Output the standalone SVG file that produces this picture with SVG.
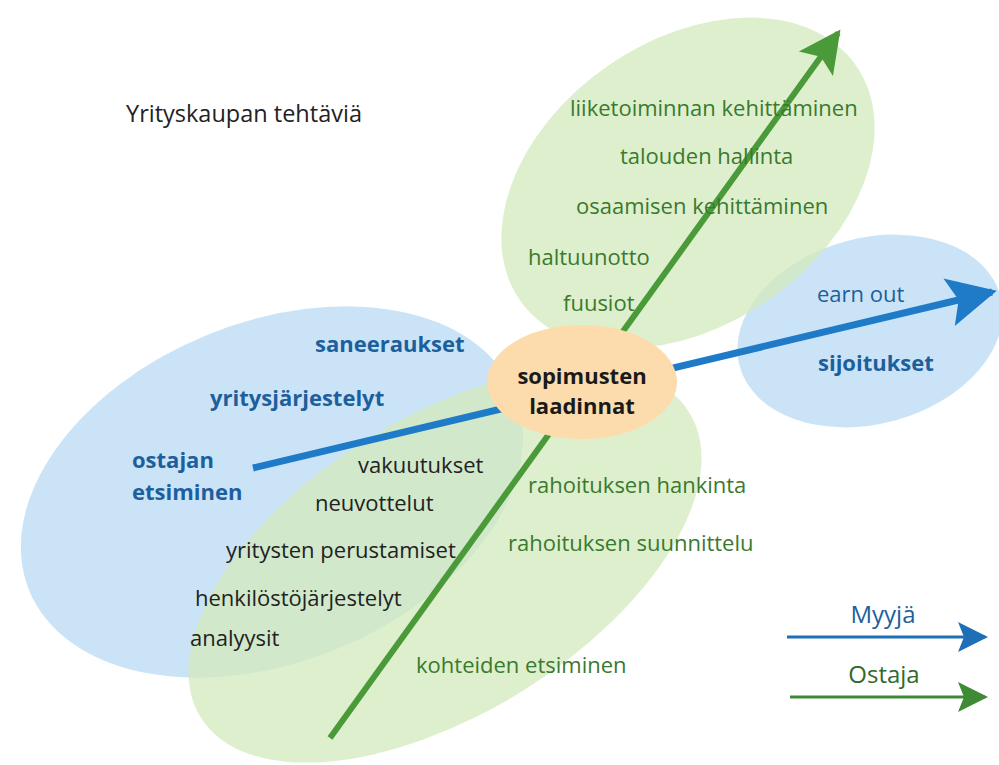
<svg xmlns="http://www.w3.org/2000/svg" width="999" height="765" viewBox="0 0 999 765">
<style>
.t{font-family:"Open Sans","Noto Sans","Liberation Sans",sans-serif;font-size:22px}
.g{fill:#3a7a2e}
.b{fill:#1d5f9c;font-weight:bold}
.k{fill:#222}
.bl{fill:#1d5f9c}
.gE{fill:#d3eabc;opacity:0.75}
.bE{fill:#c2def5;opacity:0.85}
</style>
<defs>
<marker id="mb" viewBox="0 0 10 10" refX="9" refY="5" markerWidth="8" markerHeight="7" markerUnits="strokeWidth" orient="auto"><path d="M0,0 L10,5 L0,10 L2,5 Z" fill="#1f7bc8"/></marker>
<marker id="mg" viewBox="0 0 10 10" refX="9" refY="5" markerWidth="8" markerHeight="7" markerUnits="strokeWidth" orient="auto"><path d="M0,0 L10,5 L0,10 L2,5 Z" fill="#4a9a3a"/></marker>
<marker id="lb" viewBox="0 0 10 10" refX="9" refY="5" markerWidth="10" markerHeight="10" markerUnits="strokeWidth" orient="auto"><path d="M0,0 L10,5 L0,10 L2,5 Z" fill="#1f6fb8"/></marker>
<marker id="lg" viewBox="0 0 10 10" refX="9" refY="5" markerWidth="10" markerHeight="10" markerUnits="strokeWidth" orient="auto"><path d="M0,0 L10,5 L0,10 L2,5 Z" fill="#3e8a35"/></marker>
</defs>
<rect width="999" height="765" fill="#fff"/>
<g id="areas">
<ellipse id="blueLeft" class="bE" cx="272" cy="492" rx="262" ry="170" transform="rotate(-22 272 492)"/>
<ellipse id="blueRight" class="bE" cx="870" cy="331" rx="135" ry="93" transform="rotate(-15 870 331)"/>
<ellipse id="greenTop" class="gE" cx="688" cy="183" rx="205" ry="142" transform="rotate(-35 688 183)"/>
<ellipse id="greenBottom" class="gE" cx="445" cy="565" rx="288" ry="148" transform="rotate(-32 445 565)"/>
</g>
<g id="connectors">
<line x1="253" y1="468" x2="992" y2="292" stroke="#1f7bc8" stroke-width="7" marker-end="url(#mb)"/>
<line x1="330" y1="738" x2="838" y2="33" stroke="#4a9a3a" stroke-width="6" marker-end="url(#mg)"/>
</g>
<g id="center">
<ellipse cx="582" cy="382" rx="95" ry="57" fill="#fcdcac"/>
<text class="t" x="582" y="384" text-anchor="middle" font-weight="bold" fill="#1a1a1a">sopimusten</text>
<text class="t" x="582" y="414" text-anchor="middle" font-weight="bold" fill="#1a1a1a">laadinnat</text>
</g>
<g id="title"><text class="t k" x="126" y="122" style="font-size:23.5px">Yrityskaupan tehtäviä</text></g>
<g id="topGreen">
<text class="t g" x="570" y="116">liiketoiminnan kehittäminen</text>
<text class="t g" x="620" y="164">talouden hallinta</text>
<text class="t g" x="576" y="214">osaamisen kehittäminen</text>
<text class="t g" x="528" y="265">haltuunotto</text>
<text class="t g" x="563" y="311">fuusiot</text>
</g>
<g id="rightBlue">
<text class="t bl" x="817" y="302">earn out</text>
<text class="t b" x="818" y="371">sijoitukset</text>
</g>
<g id="leftBlue">
<text class="t b" x="315" y="352">saneeraukset</text>
<text class="t b" x="210" y="406">yritysjärjestelyt</text>
<text class="t b" x="132" y="468">ostajan</text>
<text class="t b" x="132" y="500">etsiminen</text>
</g>
<g id="overlap">
<text class="t k" x="358" y="473">vakuutukset</text>
<text class="t k" x="315" y="511">neuvottelut</text>
<text class="t k" x="226" y="558">yritysten perustamiset</text>
<text class="t k" x="195" y="606">henkilöstöjärjestelyt</text>
<text class="t k" x="190" y="646">analyysit</text>
</g>
<g id="bottomGreen">
<text class="t g" x="528" y="493">rahoituksen hankinta</text>
<text class="t g" x="508" y="551">rahoituksen suunnittelu</text>
<text class="t g" x="416" y="673">kohteiden etsiminen</text>
</g>
<g id="legend">
<line x1="787" y1="637" x2="985" y2="637" stroke="#1f6fb8" stroke-width="3" marker-end="url(#lb)"/>
<text class="t bl" x="883" y="623" text-anchor="middle" style="font-size:24px">Myyjä</text>
<line x1="790" y1="697" x2="985" y2="697" stroke="#3e8a35" stroke-width="3" marker-end="url(#lg)"/>
<text class="t" x="884" y="683" text-anchor="middle" fill="#2f6a2a" style="font-size:24px">Ostaja</text>
</g>
</svg>
